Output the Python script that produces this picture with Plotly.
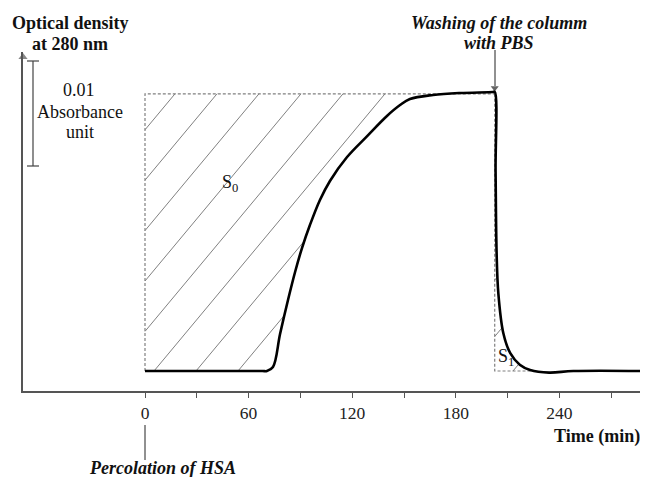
import numpy as np
import plotly.graph_objects as go

# ---- data ----
time_min = [0, 40, 68, 70.6, 74.1, 78.2, 82.8, 86.9, 90.9, 95.5, 101.3, 107.1, 117.0, 128.5,
            140.1, 147.7, 153.4, 166.8, 182.4, 201.5, 202.5, 203.0, 203.6, 204.6, 207.5, 211.5,
            217, 223, 234, 248, 290]
absorbance = [0, 0, 0, 0, 0.00038, 0.00352, 0.00676, 0.00943, 0.01171, 0.01390, 0.01629,
              0.01810, 0.02038, 0.02235, 0.02429, 0.02533, 0.02590, 0.02629, 0.02648, 0.02657,
              0.0266, 0.0190, 0.0112, 0.0074, 0.0036, 0.0017, 0.0006, 0.0001, -0.00015, 0, 0]
major_ticks = [0, 60, 120, 180, 240]
minor_ticks = [30, 90, 150, 210, 270]
wash_time = 202.5          # start of PBS washing (min)
plateau = 0.0264           # top of the S0 box
scale_bar = 0.01           # absorbance unit bar

W, H = 648, 477
OFF = 8                    # page body margin of the html page
PX_MIN = 1.727             # px per minute
PX_UNIT = 10500.0          # px per absorbance unit
GRAY = "#808080"
AX = "#555555"
FONT = "Liberation Serif"


def paper(x, y):
    """reference-screen pixel -> paper coords"""
    return (x - OFF) / W, 1 - (y - OFF) / H


def tx(xpx):
    return (xpx - 145) / PX_MIN


def ay(ypx):
    return (371 - ypx) / PX_UNIT


t = np.array(time_min)
a = np.array(absorbance)

# rising and falling parts for hatch clipping
i_top = time_min.index(wash_time)
i_base = time_min.index(70.6)
t_rise, a_rise = t[i_base:i_top + 1], a[i_base:i_top + 1]
t_fall, a_fall = t[i_top:i_top + 8][::-1], a[i_top:i_top + 8][::-1]
s = 1.2 * PX_MIN / PX_UNIT  # hatch slope (absorbance per minute)


def tc(A):
    return np.interp(A, a_rise, t_rise)


def td(A):
    return np.interp(A, a_fall, t_fall)


hx, hy = [], []
# S0 hatching
spacing = 42 / PX_MIN
for k in range(8):
    t_top = 30 / PX_MIN + k * spacing
    tl = lambda A, tt=t_top: tt - (plateau - A) / s
    a0 = max(0.0, plateau - t_top * s)
    if tl(a0) > tc(a0):
        continue
    grid = np.linspace(a0, plateau, 2000)
    end = grid[0]
    for g in grid:
        if tl(g) > tc(g):
            break
        end = g
    hx += [tl(a0), tl(end), None]
    hy += [a0, end, None]
# S1 hatching
for tb in [tx(419), tx(466), tx(513)]:
    tl = lambda A, b=tb: b + A / s
    a0 = max(0.0, (wash_time - tb) * s)
    if tl(a0) > td(a0):
        continue
    grid = np.linspace(a0, plateau, 4000)
    end = a0
    for g in grid:
        if tl(g) > td(g):
            break
        end = g
    hx += [tl(a0), tl(end), None]
    hy += [a0, end, None]

fig = go.Figure()
fig.add_trace(go.Scatter(x=hx, y=hy, mode="lines", line=dict(color=GRAY, width=1),
                         hoverinfo="skip", showlegend=False))
fig.add_trace(go.Scatter(x=[0, 0, wash_time], y=[0, plateau, plateau], mode="lines",
                         line=dict(color=GRAY, width=1.2, dash="3px,2px"), showlegend=False))
fig.add_trace(go.Scatter(x=[wash_time, wash_time, 224], y=[plateau, 0, 0], mode="lines",
                         line=dict(color=GRAY, width=1.2, dash="3px,2px"), showlegend=False))
# scale bar
sb_t = tx(33)
cap = 6 / PX_MIN
sb_top = ay(61)
fig.add_trace(go.Scatter(
    x=[sb_t - cap, sb_t + cap, None, sb_t, sb_t, None, sb_t - cap, sb_t + cap],
    y=[sb_top, sb_top, None, sb_top, sb_top - scale_bar, None, sb_top - scale_bar, sb_top - scale_bar],
    mode="lines", line=dict(color="#444", width=1.2), showlegend=False, hoverinfo="skip"))
# main curve
fig.add_trace(go.Scatter(x=time_min, y=absorbance, mode="lines",
                         line=dict(color="black", width=2.6, shape="spline", smoothing=1.0),
                         showlegend=False, cliponaxis=False))

# arrow heads as markers
fig.add_trace(go.Scatter(
    x=[tx(642), tx(23), wash_time, 0],
    y=[ay(391), ay(57), ay(88), ay(423)],
    mode="markers",
    marker=dict(symbol=["triangle-right", "triangle-up", "triangle-down", "triangle-up"],
                size=[8, 8, 7, 7], color=[AX, AX, "#222", "#222"], line=dict(width=0)),
    cliponaxis=False, showlegend=False, hoverinfo="skip"))

x_left = tx(23)
x_right = tx(647)
y_bot = ay(391)
y_top = ay(52)

fig.update_layout(
    width=W, height=H, margin=dict(l=0, r=0, t=0, b=0),
    paper_bgcolor="white", plot_bgcolor="white",
    font=dict(family=FONT, size=18, color="#111"),
    xaxis=dict(domain=[paper(23, 0)[0], paper(647, 0)[0]], range=[x_left, x_right],
               showgrid=False, zeroline=False,
               showline=True, linecolor=AX, linewidth=1.5, ticks="outside", ticklen=5,
               tickcolor=AX, tickwidth=1, tickvals=major_ticks,
               ticktext=[str(v) for v in major_ticks],
               minor=dict(tickvals=minor_ticks, ticks="outside", ticklen=5, tickcolor=AX,
                          tickwidth=1, showgrid=False),
               tickfont=dict(family=FONT, size=17.5, color="#222")),
    yaxis=dict(domain=[paper(0, 391)[1], paper(0, 52)[1]], range=[y_bot, y_top], showgrid=False,
               zeroline=False, showline=True, linecolor=AX, linewidth=1.5, showticklabels=False,
               ticks=""),
)

# arrow shafts as shapes (paper coords)
shapes = []
for (x0, y0, x1, y1) in [(495, 50, 495, 86), (145, 425, 145, 460)]:
    p0 = paper(x0, y0)
    p1 = paper(x1, y1)
    shapes.append(dict(type="line", xref="paper", yref="paper", x0=p0[0], y0=p0[1],
                       x1=p1[0], y1=p1[1], line=dict(color="#222", width=1)))
fig.update_layout(shapes=shapes)

ann = []


def text(x, y, s_, bold=False, italic=False, size=18):
    px_, py_ = paper(x, y)
    if bold:
        s_ = "<b>" + s_ + "</b>"
    if italic:
        s_ = "<i>" + s_ + "</i>"
    ann.append(dict(x=px_, y=py_, xref="paper", yref="paper", text=s_, showarrow=False,
                    xanchor="center", yanchor="middle",
                    font=dict(family=FONT, size=size, color="#111")))


text(70, 23, "Optical density", bold=True)
text(70, 44, "at 280 nm", bold=True)
text(79, 90, "0.01")
text(80, 112, "Absorbance")
text(80, 132, "unit")
text(499, 23, "Washing of the columm", bold=True, italic=True)
text(499, 43, "with PBS", bold=True, italic=True)
text(597, 436, "Time (min)", bold=True)
text(162, 468, "Percolation of HSA", bold=True, italic=True)
text(230, 183, "S<sub>0</sub>")
text(506, 357, "S<sub>1</sub>")

fig.update_layout(annotations=ann)
fig.write_html("out.html")
